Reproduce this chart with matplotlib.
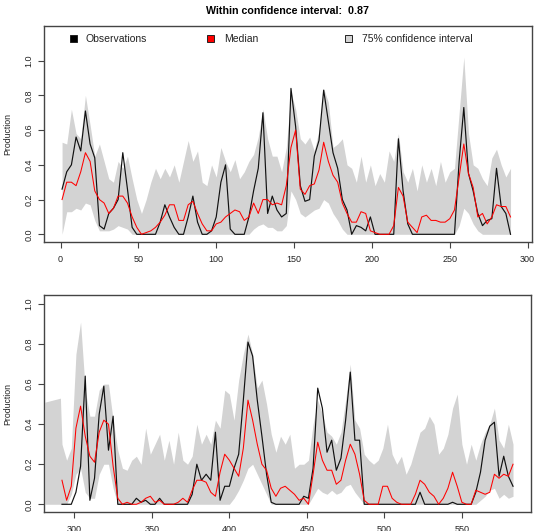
import matplotlib
matplotlib.use("Agg")
from matplotlib import pyplot as plt
from matplotlib.patches import Rectangle

plt.rcParams['font.family'] = ['Liberation Sans', 'DejaVu Sans']

# ---- data (every 3rd time step) ----
days_top = list(range(1, 290, 3))
obs_top = [0.26, 0.36, 0.40, 0.56, 0.48, 0.71, 0.52, 0.44, 0.05, 0.03,
           0.12, 0.15, 0.20, 0.47, 0.26, 0.04, 0.00, 0.00, 0.00, 0.00,
           0.00, 0.07, 0.17, 0.10, 0.04, 0.00, 0.00, 0.10, 0.22, 0.07,
           0.00, 0.00, 0.02, 0.10, 0.30, 0.40, 0.03, 0.00, 0.00, 0.00,
           0.10, 0.25, 0.38, 0.70, 0.12, 0.22, 0.14, 0.10, 0.12, 0.84,
           0.62, 0.28, 0.19, 0.20, 0.45, 0.54, 0.83, 0.65, 0.47, 0.38,
           0.20, 0.14, 0.00, 0.05, 0.04, 0.02, 0.10, 0.00, 0.00, 0.00,
           0.00, 0.00, 0.55, 0.25, 0.06, 0.00, 0.00, 0.00, 0.00, 0.00,
           0.00, 0.00, 0.00, 0.00, 0.00, 0.42, 0.73, 0.35, 0.25, 0.12,
           0.05, 0.08, 0.09, 0.38, 0.16, 0.12, 0.00]
median_top = [0.20, 0.30, 0.30, 0.28, 0.36, 0.47, 0.42, 0.25, 0.20, 0.18,
              0.12, 0.15, 0.22, 0.22, 0.18, 0.10, 0.04, 0.00, 0.01, 0.02,
              0.04, 0.07, 0.11, 0.17, 0.17, 0.08, 0.08, 0.17, 0.19, 0.12,
              0.06, 0.02, 0.02, 0.06, 0.07, 0.10, 0.12, 0.14, 0.13, 0.08,
              0.10, 0.18, 0.12, 0.20, 0.20, 0.17, 0.18, 0.17, 0.28, 0.50,
              0.60, 0.26, 0.23, 0.28, 0.29, 0.37, 0.53, 0.42, 0.34, 0.30,
              0.18, 0.12, 0.07, 0.07, 0.13, 0.12, 0.02, 0.01, 0.00, 0.00,
              0.00, 0.05, 0.27, 0.22, 0.07, 0.04, 0.01, 0.10, 0.11, 0.08,
              0.08, 0.07, 0.07, 0.09, 0.14, 0.33, 0.52, 0.35, 0.27, 0.10,
              0.12, 0.06, 0.10, 0.17, 0.16, 0.16, 0.10]
upper_top = [0.53, 0.52, 0.72, 0.58, 0.55, 0.80, 0.63, 0.45, 0.52, 0.42,
             0.32, 0.30, 0.42, 0.38, 0.45, 0.32, 0.20, 0.12, 0.20, 0.30,
             0.38, 0.32, 0.38, 0.33, 0.40, 0.30, 0.42, 0.54, 0.42, 0.48,
             0.30, 0.28, 0.40, 0.33, 0.50, 0.42, 0.36, 0.43, 0.32, 0.36,
             0.42, 0.46, 0.56, 0.72, 0.55, 0.45, 0.45, 0.36, 0.50, 0.82,
             0.72, 0.55, 0.52, 0.56, 0.48, 0.60, 0.84, 0.76, 0.50, 0.52,
             0.55, 0.40, 0.38, 0.30, 0.45, 0.30, 0.40, 0.28, 0.35, 0.30,
             0.48, 0.42, 0.58, 0.36, 0.30, 0.38, 0.25, 0.40, 0.30, 0.38,
             0.28, 0.42, 0.30, 0.36, 0.38, 0.70, 1.02, 0.58, 0.40, 0.38,
             0.32, 0.28, 0.44, 0.49, 0.40, 0.33, 0.38]
lower_top = [0.00, 0.13, 0.13, 0.15, 0.14, 0.18, 0.17, 0.08, 0.02, 0.02,
             0.02, 0.03, 0.05, 0.04, 0.03, 0.00, 0.00, 0.00, 0.00, 0.00,
             0.00, 0.00, 0.00, 0.00, 0.00, 0.00, 0.00, 0.00, 0.00, 0.00,
             0.00, 0.00, 0.00, 0.00, 0.00, 0.00, 0.00, 0.00, 0.00, 0.00,
             0.00, 0.03, 0.05, 0.06, 0.04, 0.04, 0.02, 0.02, 0.05, 0.25,
             0.20, 0.12, 0.10, 0.12, 0.14, 0.15, 0.20, 0.18, 0.12, 0.08,
             0.03, 0.00, 0.00, 0.00, 0.00, 0.00, 0.00, 0.00, 0.00, 0.00,
             0.00, 0.00, 0.00, 0.00, 0.00, 0.00, 0.00, 0.00, 0.00, 0.00,
             0.00, 0.00, 0.00, 0.00, 0.00, 0.05, 0.15, 0.12, 0.06, 0.02,
             0.00, 0.00, 0.00, 0.00, 0.00, 0.00, 0.00]

days_bot = list(range(292, 584, 3))
obs_bot = [0.00, 0.00, 0.00, 0.06, 0.19, 0.64, 0.02, 0.13, 0.45, 0.59,
           0.27, 0.44, 0.00, 0.00, 0.00, 0.00, 0.03, 0.01, 0.02, 0.00,
           0.00, 0.03, 0.00, 0.00, 0.00, 0.00, 0.00, 0.00, 0.05, 0.20,
           0.12, 0.15, 0.12, 0.36, 0.02, 0.09, 0.09, 0.18, 0.25, 0.52,
           0.81, 0.74, 0.52, 0.34, 0.15, 0.01, 0.00, 0.00, 0.00, 0.00,
           0.00, 0.00, 0.04, 0.03, 0.18, 0.58, 0.48, 0.26, 0.32, 0.17,
           0.23, 0.42, 0.66, 0.32, 0.32, 0.00, 0.00, 0.00, 0.00, 0.00,
           0.00, 0.00, 0.00, 0.00, 0.00, 0.00, 0.00, 0.06, 0.00, 0.00,
           0.00, 0.00, 0.00, 0.00, 0.01, 0.00, 0.00, 0.00, 0.00, 0.06,
           0.16, 0.32, 0.39, 0.41, 0.14, 0.24, 0.14, 0.09]
median_bot = [0.12, 0.02, 0.09, 0.38, 0.49, 0.34, 0.24, 0.21, 0.36, 0.42,
              0.40, 0.19, 0.03, 0.00, 0.01, 0.00, 0.00, 0.01, 0.03, 0.04,
              0.01, 0.02, 0.00, 0.00, 0.00, 0.01, 0.03, 0.01, 0.07, 0.12,
              0.12, 0.11, 0.06, 0.04, 0.16, 0.25, 0.22, 0.18, 0.14, 0.28,
              0.52, 0.42, 0.30, 0.20, 0.17, 0.08, 0.04, 0.08, 0.09, 0.07,
              0.05, 0.02, 0.03, 0.00, 0.15, 0.31, 0.22, 0.17, 0.17, 0.10,
              0.12, 0.22, 0.30, 0.25, 0.15, 0.02, 0.00, 0.00, 0.00, 0.09,
              0.09, 0.03, 0.01, 0.00, 0.00, 0.00, 0.05, 0.12, 0.10, 0.06,
              0.04, 0.00, 0.03, 0.08, 0.16, 0.09, 0.01, 0.00, 0.00, 0.07,
              0.06, 0.05, 0.06, 0.15, 0.13, 0.15, 0.14, 0.20]
upper_bot = [0.30, 0.22, 0.28, 0.75, 0.91, 0.57, 0.44, 0.44, 0.57, 0.60,
             0.60, 0.42, 0.27, 0.18, 0.17, 0.22, 0.24, 0.20, 0.38, 0.25,
             0.30, 0.35, 0.22, 0.32, 0.20, 0.36, 0.22, 0.20, 0.24, 0.40,
             0.30, 0.35, 0.30, 0.42, 0.38, 0.57, 0.55, 0.42, 0.62, 0.75,
             0.85, 0.75, 0.58, 0.62, 0.50, 0.35, 0.26, 0.34, 0.30, 0.35,
             0.18, 0.20, 0.20, 0.22, 0.40, 0.52, 0.45, 0.36, 0.34, 0.30,
             0.36, 0.52, 0.70, 0.42, 0.38, 0.25, 0.22, 0.20, 0.22, 0.28,
             0.40, 0.25, 0.20, 0.24, 0.15, 0.20, 0.28, 0.36, 0.38, 0.44,
             0.40, 0.25, 0.28, 0.35, 0.48, 0.55, 0.30, 0.20, 0.30, 0.22,
             0.30, 0.36, 0.40, 0.48, 0.32, 0.28, 0.40, 0.30]
lower_bot = [0.00, 0.00, 0.05, 0.15, 0.18, 0.06, 0.03, 0.03, 0.15, 0.20,
             0.20, 0.08, 0.00, 0.00, 0.00, 0.00, 0.00, 0.00, 0.00, 0.00,
             0.00, 0.00, 0.00, 0.00, 0.00, 0.00, 0.00, 0.00, 0.00, 0.00,
             0.00, 0.00, 0.00, 0.00, 0.00, 0.00, 0.00, 0.03, 0.07, 0.12,
             0.18, 0.20, 0.15, 0.10, 0.05, 0.00, 0.00, 0.00, 0.00, 0.00,
             0.00, 0.00, 0.00, 0.00, 0.04, 0.08, 0.06, 0.05, 0.07, 0.05,
             0.06, 0.09, 0.10, 0.06, 0.03, 0.00, 0.00, 0.00, 0.00, 0.00,
             0.00, 0.00, 0.00, 0.00, 0.00, 0.00, 0.00, 0.00, 0.00, 0.00,
             0.00, 0.00, 0.00, 0.00, 0.00, 0.00, 0.00, 0.00, 0.00, 0.00,
             0.02, 0.04, 0.07, 0.08, 0.03, 0.05, 0.03, 0.04]

# left-over piece of the interval drawn at the start of the 2nd panel
carry_days = [281, 291]
carry_upper = [0.51, 0.53]
carry_lower = [0.00, 0.00]

within_ci = 0.87
legend_labels = ["Observations", "Median", "75% confidence interval"]
legend_colors = ["black", "red", "lightgray"]

W, H = 535, 531
fig = plt.figure(figsize=(W / 100, H / 100), dpi=100)

ax1 = fig.add_axes([44 / W, 1 - 242.3 / H, 487.7 / W, 216.6 / H])
ax2 = fig.add_axes([44 / W, 1 - 512.3 / H, 487.0 / W, 217.3 / H])


def draw_panel(ax, days, obs, med, band_days, lo, hi):
    ax.fill_between(band_days, lo, hi, color="lightgray", lw=0, zorder=1)
    ax.plot(days, obs, color="#111111", lw=0.85, zorder=2)
    ax.plot(days, med, color="red", lw=0.75, zorder=3)


draw_panel(ax1, days_top, obs_top, median_top,
           days_top, lower_top, upper_top)
draw_panel(ax2, days_bot, obs_bot, median_bot, carry_days + days_bot,
           carry_lower + lower_bot, carry_upper + upper_bot)

ax1.set_xlim(-10.6, 302.6)
ax1.set_ylim(-0.046, 1.201)
ax1.set_xticks([0, 50, 100, 150, 200, 250, 300])
ax2.set_xlim(280.4, 594.6)
ax2.set_ylim(-0.04, 1.045)
ax2.set_xticks([300, 350, 400, 450, 500, 550])

for ax in (ax1, ax2):
    ax.set_yticks([0.0, 0.2, 0.4, 0.6, 0.8, 1.0])
    ax.set_yticklabels(["0.0", "0.2", "0.4", "0.6", "0.8", "1.0"],
                       rotation=90, va="center")
    ax.tick_params(axis="both", length=4, width=0.8, color="#444444",
                   labelsize=6.5, labelcolor="#222222")
    ax.tick_params(axis="x", pad=5.5)
    ax.tick_params(axis="y", pad=3.5)
    for s in ax.spines.values():
        s.set_color("#444444")
        s.set_linewidth(1.0)
    ax.set_ylabel("Production", fontsize=6.3, color="#222222")
    ax.yaxis.set_label_coords(-0.066, 0.5)

fig.text(288 / W, 1 - 11.5 / H,
         "Within confidence interval:  " + format(within_ci, ".2f"),
         ha="center", va="center", fontsize=7.7, fontweight="bold")

# legend along the top of the first panel
box_x = [73.3, 210.0, 348.3]
text_x = [86.0, 224.0, 361.7]
for i in range(3):
    fig.patches.append(Rectangle(((box_x[i] - 3.5) / W, 1 - 42 / H),
                                 7 / W, 7 / H, transform=fig.transFigure,
                                 facecolor=legend_colors[i],
                                 edgecolor="#222222", lw=0.7))
    fig.text(text_x[i] / W, 1 - 38.5 / H, legend_labels[i],
             ha="left", va="center", fontsize=7.5, color="#222222")

fig.savefig("out.png", dpi=100)
